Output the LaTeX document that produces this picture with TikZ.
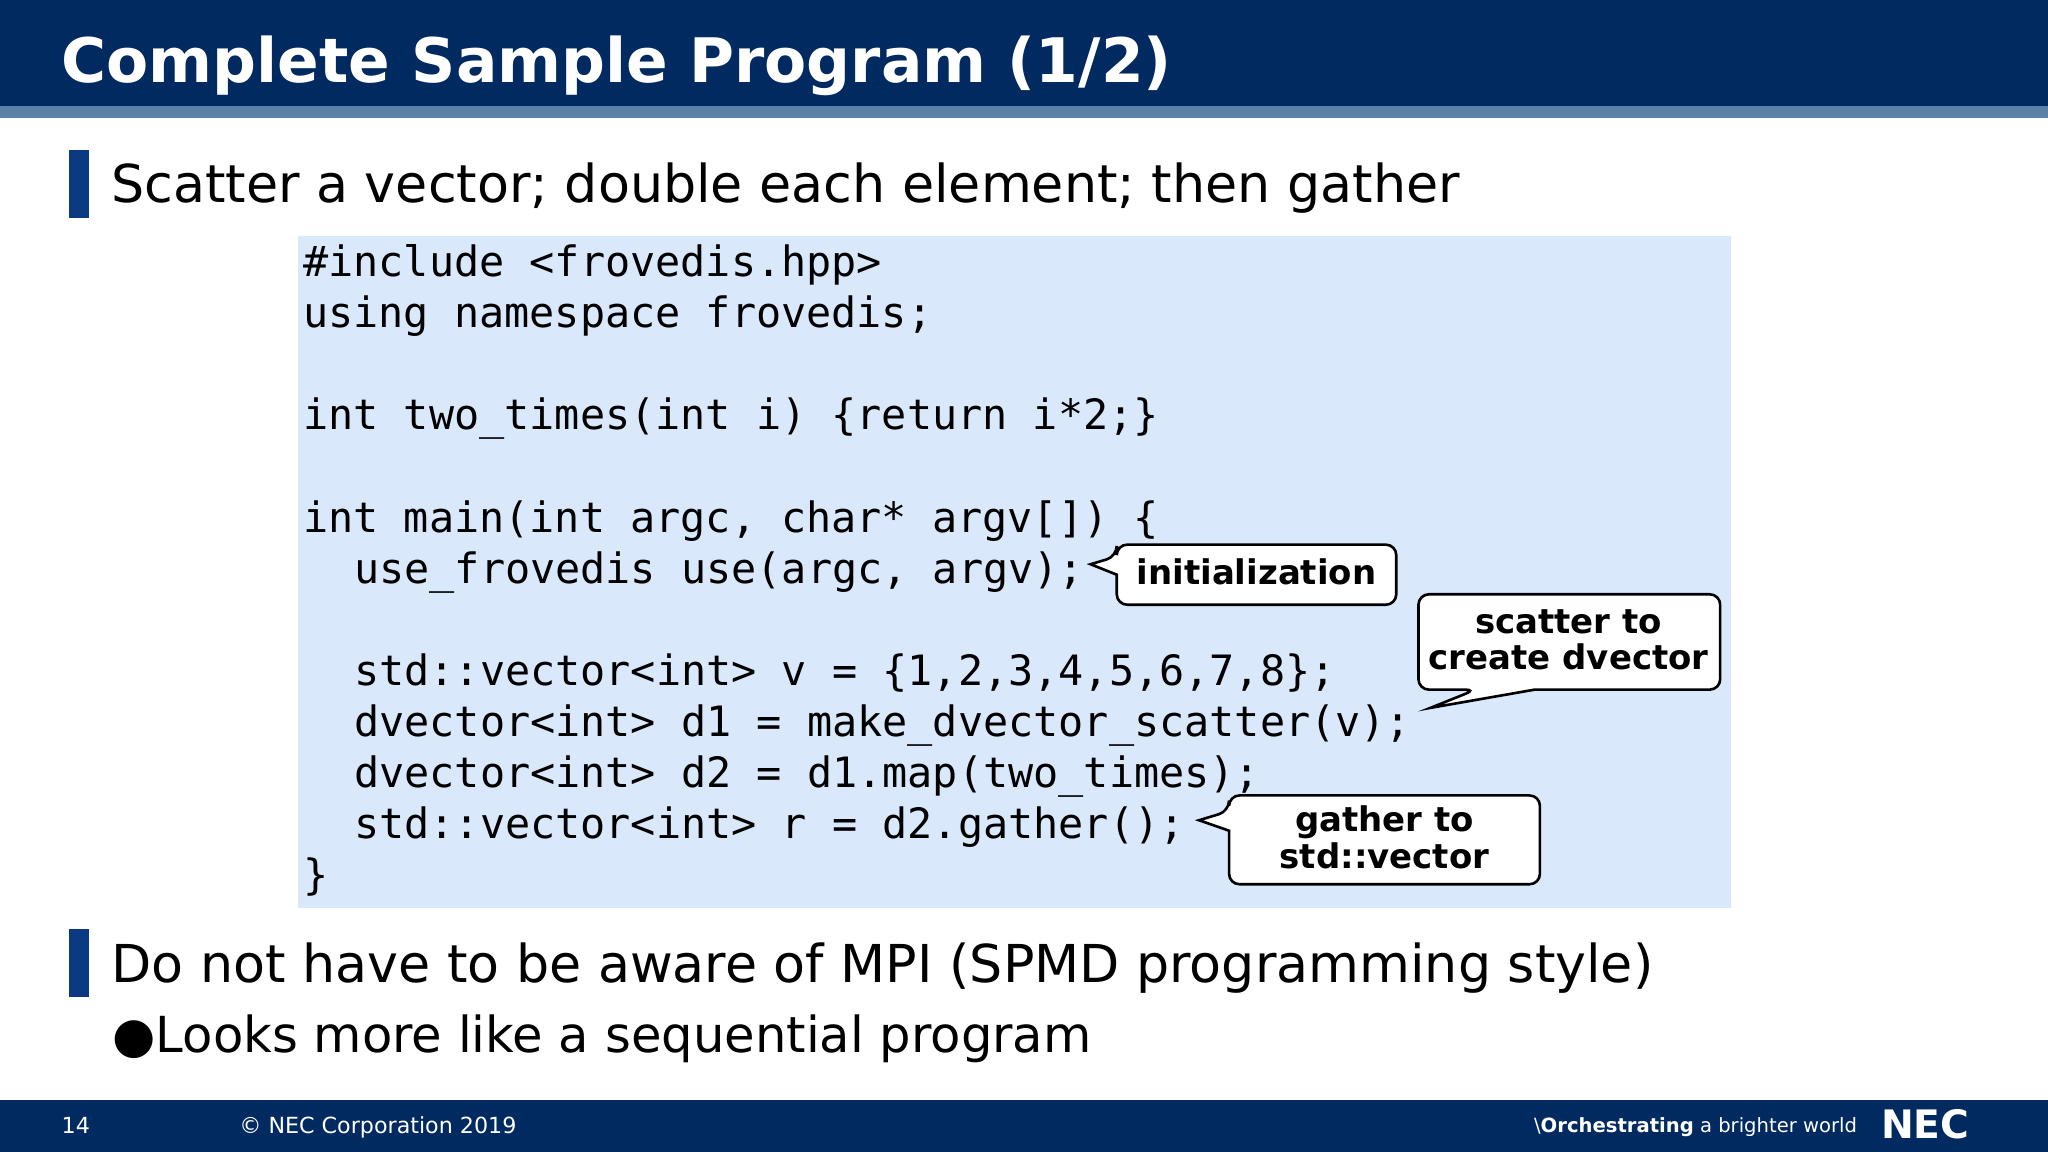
\documentclass[tikz,border=0pt]{standalone}
\usepackage{fontspec}
\setmainfont{DejaVu Sans}
\setmonofont{DejaVu Sans Mono}
\definecolor{navy}{HTML}{002A60}
\definecolor{stripe}{HTML}{5B82A6}
\definecolor{barblue}{HTML}{0B3A82}
\definecolor{codebg}{HTML}{DAE8FC}
\tikzset{
 code/.style={anchor=base west,inner sep=0pt,font=\fontsize{32}{32}\selectfont\ttfamily},
 body/.style={anchor=base west,inner sep=0pt,font=\fontsize{40}{40}\selectfont},
 call/.style={draw=black,line width=2pt,fill=white,rounded corners=8pt},
 calltext/.style={font=\fontsize{26}{28}\selectfont\bfseries,align=center,inner sep=0pt},
 foot/.style={anchor=base west,inner sep=0pt,text=white,font=\fontsize{17}{17}\selectfont}
}
\begin{document}
\begin{tikzpicture}[x=1pt,y=-1pt]
\useasboundingbox (0,0) rectangle (1568,882);
\fill[white] (0,0) rectangle (1568,882);
% title bar
\fill[navy] (0,0) rectangle (1568,81);
\fill[stripe] (0,81) rectangle (1568,90);
\node[anchor=base west,inner sep=0pt,text=white,font=\fontsize{47}{47}\selectfont\bfseries] (title) at (47,63) {Complete Sample Program (1/2)};
% bullet 1
\fill[barblue] (53,115) rectangle (68,167);
\node[body] (b1) at (85,155) {Scatter a vector; double each element; then gather};
% code box
\fill[codebg] (228,181) rectangle (1325,695);
\node[code] (l1) at (232,212) {\#include <frovedis.hpp>};
\node[code] (l2) at (232,251) {using namespace frovedis;};
\node[code] (l3) at (232,329) {int two\_times(int i) \{return i*2;\}};
\node[code] (l4) at (232,408) {int main(int argc, char* argv[]) \{};
\node[code] (l5) at (271,447) {use\_frovedis use(argc, argv);};
\node[code] (l6) at (271,525) {std::vector<int> v = \{1,2,3,4,5,6,7,8\};};
\node[code] (l7) at (271,564) {dvector<int> d1 = make\_dvector\_scatter(v);};
\node[code] (l8) at (271,603) {dvector<int> d2 = d1.map(two\_times);};
\node[code] (l9) at (271,642) {std::vector<int> r = d2.gather();};
\node[code] (l10) at (232,681) {\}};
% callouts
\draw[call] (855,440) -- (855,463) -- (1069,463) -- (1069,417) -- (855,417) -- (855,426) [sharp corners] -- (835,432) -- cycle;
\node[calltext] (c1) at (962,438) {initialization};
\draw[call] (1086,490) -- (1086,528) -- (1130,528) [sharp corners] -- (1095,542) -- (1175,528) [rounded corners=8pt] -- (1317,528) -- (1317,455) -- (1086,455) -- cycle;
\node[calltext] (c2) at (1201,490) {scatter to\\create dvector};
\draw[call] (941,645) -- (941,677) -- (1179,677) -- (1179,609) -- (941,609) -- (941,621) [sharp corners] -- (918,628) -- (941,636) -- cycle;
\node[calltext] (c3) at (1060,641) {gather to\\std::vector};
% bullet 2
\fill[barblue] (53,711) rectangle (68,763);
\node[body] (b2) at (85,752) {Do not have to be aware of MPI (SPMD programming style)};
\node[anchor=base west,inner sep=0pt,font=\fontsize{38}{38}\selectfont] (b3) at (86,806) {●Looks more like a sequential program};
% footer
\fill[navy] (0,842) rectangle (1568,882);
\node[foot] (pg) at (47,868) {14};
\node[foot] (cp) at (183,868) {© NEC Corporation 2019};
\node[anchor=base east,inner sep=0pt,text=white,font=\fontsize{15}{15}\selectfont] (orc) at (1422,867) {\textbackslash\textbf{Orchestrating} a brighter world};
\node[anchor=base west,inner sep=0pt,text=white,font=\fontsize{30}{30}\selectfont\bfseries] (nec) at (1440,872) {NEC};
\end{tikzpicture}
\end{document}
